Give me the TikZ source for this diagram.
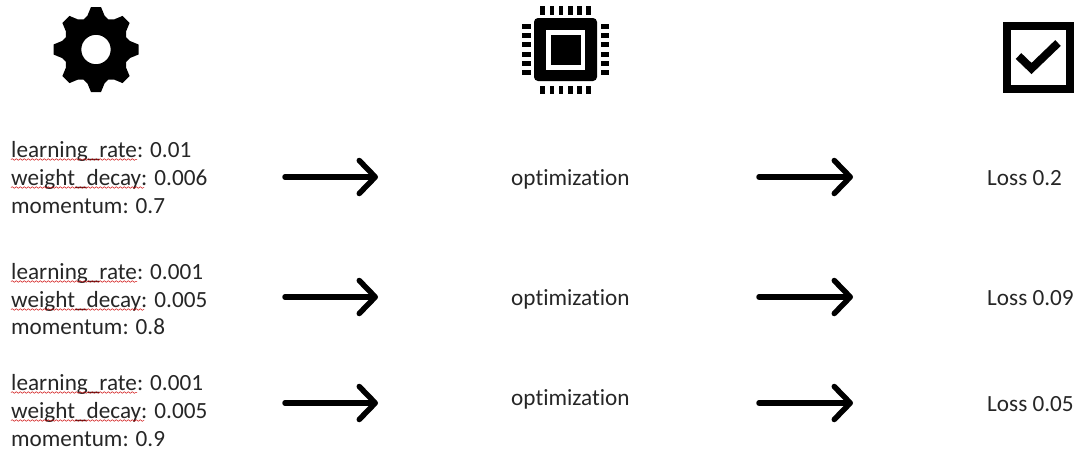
\documentclass[tikz,border=0pt]{standalone}
\usepackage{fontspec}
\setmainfont[Ligatures=NoCommon]{Carlito}
\usetikzlibrary{arrows.meta,decorations.pathmorphing}
\tikzset{
 x=1pt,y=-1pt,
 lbl/.style={inner sep=0pt,anchor=base west,yshift=-1pt,font=\fontsize{23.2}{27}\selectfont,text=black!85},
 flow/.style={line width=5.5pt,line cap=round,-{Straight Barb[length=16pt,width=33pt,round,line width=5.5pt]}},
 wave/.style={draw=red!80!black,line width=.5pt,decorate,decoration={snake,amplitude=.8pt,segment length=4pt}},
 ink/.style={fill=black,draw=none}
}
\newcommand{\paramrow}[7]{%
 \node[lbl] (#1a) at (11,#2) {learning\_rate: #5};
 \node[lbl] (#1b) at (11,#3) {weight\_decay: #6};
 \node[lbl] (#1c) at (11,#4) {momentum: #7};
 \draw[wave] (11,#2+3.5) -- (137,#2+3.5);
 \draw[wave] (11,#3+3.5) -- (144,#3+3.5);
}
\begin{document}
\begin{tikzpicture}
\useasboundingbox (0,0) rectangle (1079,453);
% gear
\begin{scope}[shift={(96,49.5)}]
 \fill[ink,even odd rule]
  (-5,-42.5) -- (5,-42.5) -- (8.5,-34) -- (12.5,-30)
  \foreach \a in {45,90,...,315}{
   -- ({-8.5*cos(\a)+34*sin(\a)},{-8.5*sin(\a)-34*cos(\a)})
   -- ({-5*cos(\a)+42.5*sin(\a)},{-5*sin(\a)-42.5*cos(\a)})
   -- ({5*cos(\a)+42.5*sin(\a)},{5*sin(\a)-42.5*cos(\a)})
   -- ({8.5*cos(\a)+34*sin(\a)},{8.5*sin(\a)-34*cos(\a)})
   -- ({12.5*cos(\a)+30*sin(\a)},{12.5*sin(\a)-30*cos(\a)})
  }
  -- (-8.5,-34) -- cycle
  (0,0) circle[radius=14.7];
\end{scope}
% chip
\fill[ink,rounded corners=4pt] (534,18) rectangle (597,81);
\fill[white] (546,30) rectangle (585,69.5);
\fill[ink] (550.5,35) rectangle (580.5,65);
\foreach \i in {0,...,5}{
 \fill[ink] ({540.3+9.2*\i},6) rectangle ({545+9.2*\i},14.5);
 \fill[ink] ({540.3+9.2*\i},85.5) rectangle ({545+9.2*\i},94);
 \fill[ink] (522,{24+9.2*\i}) rectangle (530.5,{29+9.2*\i});
 \fill[ink] (600.5,{24+9.2*\i}) rectangle (609,{29+9.2*\i});
}
% check box
\draw[black,line width=8pt] (1007,26) rectangle (1070,89);
\draw[black,line width=8pt] (1018.5,56) -- (1031.5,68.5) -- (1058,43);
% rows
\paramrow{p1}{156}{184}{212}{0.01}{0.006}{0.7}
\paramrow{p2}{278}{306}{333}{0.001}{0.005}{0.8}
\paramrow{p3}{389}{417}{445}{0.001}{0.005}{0.9}
\node[lbl] (o1) at (511,184) {optimization};
\node[lbl] (o2) at (511,304) {optimization};
\node[lbl] (o3) at (511,404) {optimization};
\node[lbl] (l1) at (987,184) {Loss 0.2};
\node[lbl] (l2) at (987,304) {Loss 0.09};
\node[lbl] (l3) at (987,410) {Loss 0.05};
\foreach \r/\y in {1/177,2/297,3/403}{
 \coordinate (a\r) at (285,\y);
 \coordinate (b\r) at (378,\y);
 \coordinate (c\r) at (759,\y);
 \coordinate (d\r) at (853,\y);
 \draw[flow] (a\r) -- (b\r);
 \draw[flow] (c\r) -- (d\r);
}
\end{tikzpicture}
\end{document}
